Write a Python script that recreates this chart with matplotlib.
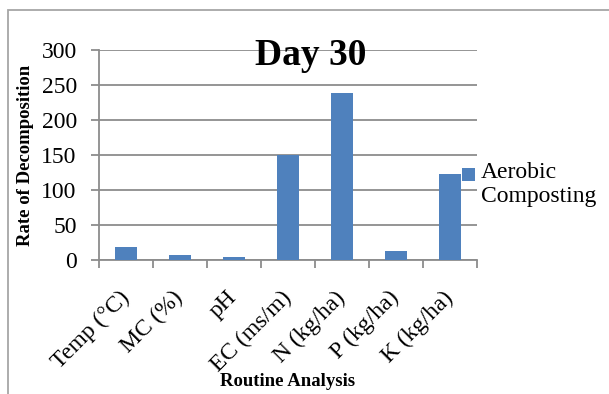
import matplotlib.pyplot as plt
from matplotlib.patches import Rectangle
from matplotlib.container import BarContainer
from matplotlib.legend_handler import HandlerPatch, update_from_first_child

categories = ['Temp (°C)', 'MC (%)', 'pH', 'EC (ms/m)', 'N (kg/ha)', 'P (kg/ha)', 'K (kg/ha)']
values = [18, 7, 5, 150, 239, 13, 123]
series_name = 'Aerobic\nComposting'
yticks = [0, 50, 100, 150, 200, 250, 300]
bar_color = '#4f81bd'

plt.rcParams['font.family'] = ['Liberation Serif', 'DejaVu Serif']

fig = plt.figure(figsize=(6.09, 3.94), dpi=100)
ax = fig.add_axes([99/609, 1-260/394, 378/609, 210/394])

# outer chart frame (only left and top edges visible)
fig.patches.append(Rectangle((8/609, -0.05), 1.1, 1-10/394+0.05, transform=fig.transFigure,
                             fill=False, edgecolor='#a6a6a6', linewidth=1.3))

x = list(range(len(categories)))
ax.bar(x, values, width=0.4, color=bar_color, label=series_name, zorder=3)

ax.set_xlim(-0.5, len(categories) - 0.5)
ax.set_ylim(0, 300)
ax.set_yticks(yticks)
ax.yaxis.grid(True, color='#8c8c8c', linewidth=1.3)
ax.set_axisbelow(True)

for s in ['top', 'right']:
    ax.spines[s].set_visible(False)
ax.spines['left'].set_color('#8c8c8c')
ax.spines['bottom'].set_color('#8c8c8c')
ax.spines['left'].set_linewidth(1.3)
ax.spines['bottom'].set_linewidth(1.3)

ax.tick_params(axis='y', length=6, width=1.3, color='#8c8c8c', labelsize=17, pad=10)
ax.set_xticks(x)
ax.set_xticklabels(categories, rotation=45, ha='right', va='center', rotation_mode='anchor', fontsize=17)
ax.tick_params(axis='x', which='major', length=0, pad=25)
ax.set_xticks([i - 0.5 for i in range(len(categories) + 1)], minor=True)
ax.tick_params(axis='x', which='minor', length=6, width=1.3, color='#8c8c8c')

ax.set_ylabel('Rate of Decomposition', fontsize=13.5, fontweight='bold', labelpad=5)
ax.set_xlabel('Routine Analysis', fontsize=13.5, fontweight='bold', labelpad=0)
ax.xaxis.set_label_coords(0.5, -(381-260)/210)
ax.xaxis.label.set_va('center')

fig.text(311/609, 1-65/394, 'Day 30', fontsize=27, fontweight='bold', ha='center', va='baseline')


# legend square sits next to the first line of the label
def top_square(legend, orig_handle, xdescent, ydescent, width, height, fontsize):
    side = 0.55 * fontsize
    return Rectangle((-xdescent, -ydescent + height - side), width, side)


leg = ax.legend(loc='upper left', bbox_to_anchor=(462/609, 1-162/394), bbox_transform=fig.transFigure,
                frameon=False, fontsize=17, handlelength=0.55, handleheight=1.9, handletextpad=0.25,
                borderpad=0, borderaxespad=0, labelspacing=0,
                handler_map={BarContainer: HandlerPatch(patch_func=top_square,
                                                        update_func=update_from_first_child)})
for t in leg.get_texts():
    t.set_linespacing(1.2)

fig.savefig('out.png', dpi=100)
